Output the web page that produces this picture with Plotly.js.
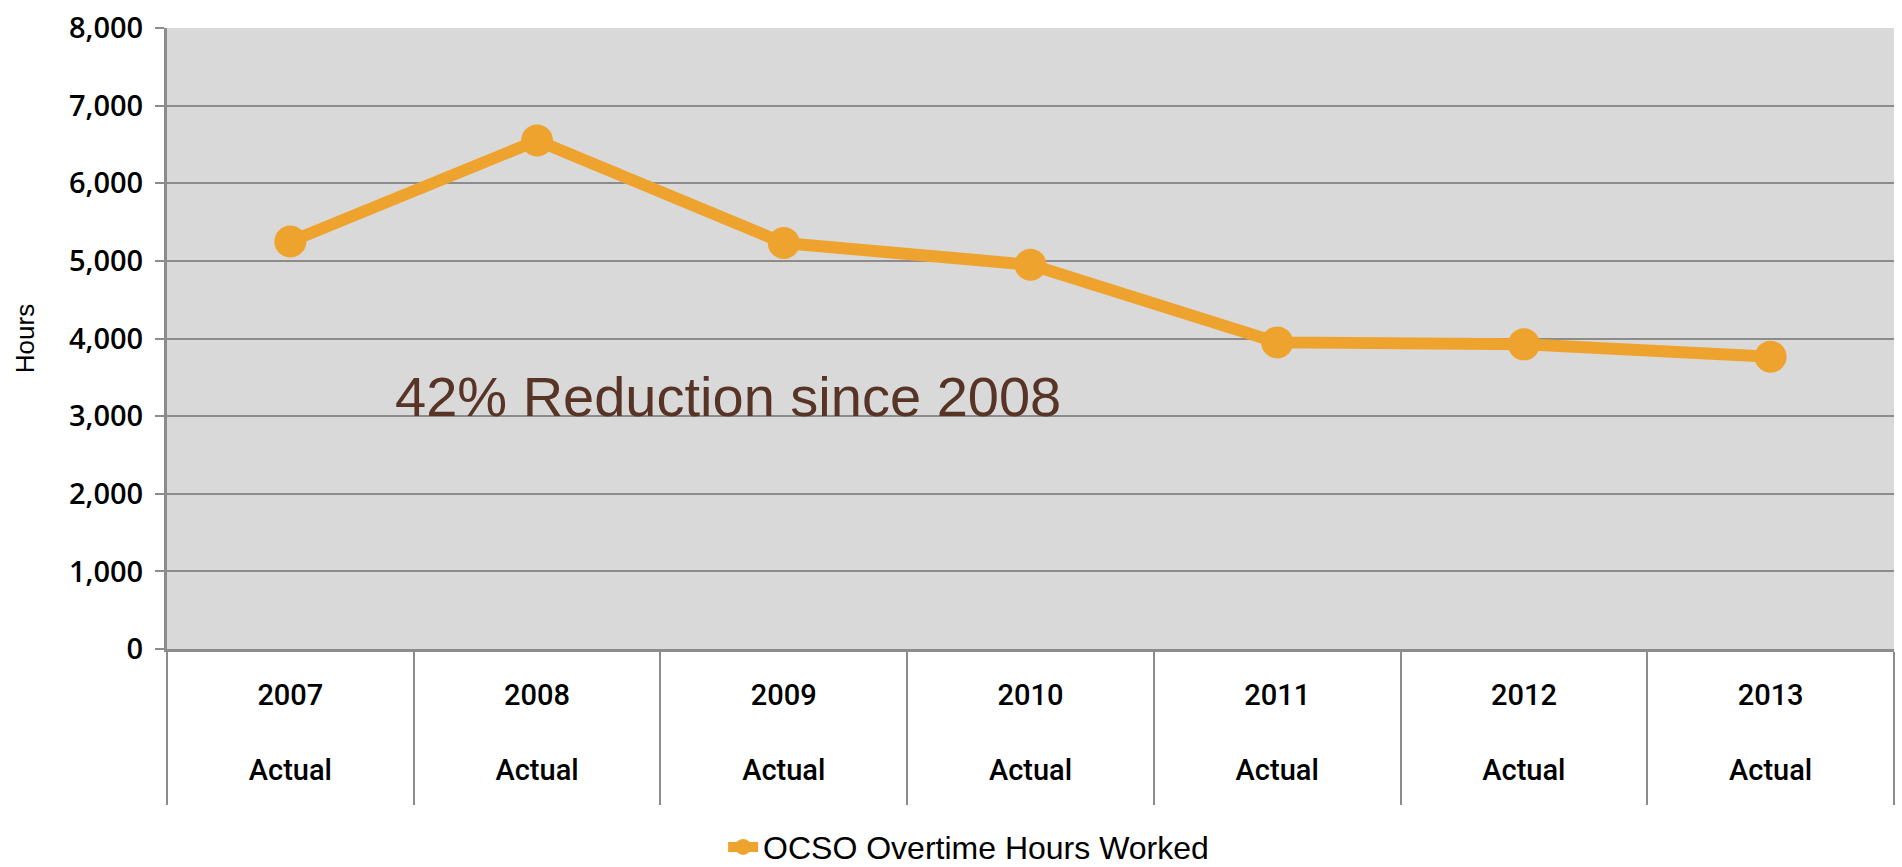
<!DOCTYPE html>
<html>
<head>
<meta charset="utf-8">
<script src="https://cdn.plot.ly/plotly-3.0.1.min.js"></script>
<style>
  html, body { margin: 0; padding: 0; background: #ffffff; }
  #chart { width: 1902px; height: 867px; }
</style>
</head>
<body>
<div id="chart"></div>
<script>
// ---- Data ----
const years = ["2007", "2008", "2009", "2010", "2011", "2012", "2013"];
const status = ["Actual", "Actual", "Actual", "Actual", "Actual", "Actual", "Actual"];
const overtimeHours = [5250, 6550, 5230, 4950, 3950, 3925, 3765];
const seriesName = "OCSO Overtime Hours Worked";
const yTickVals = [0, 1000, 2000, 3000, 4000, 5000, 6000, 7000, 8000];
const yTickText = ["0", "1,000", "2,000", "3,000", "4,000", "5,000", "6,000", "7,000", "8,000"];
const noteText = "42% Reduction since 2008";

const tickLabels = years.map((y, i) => y + "<br><br>" + status[i]);

const ORANGE = "#EFA32F";
const GRID = "#8c8c8c";

const trace = {
  type: "scatter",
  mode: "lines+markers",
  name: seriesName,
  x: years,
  y: overtimeHours,
  line: { color: ORANGE, width: 12 },
  marker: { color: ORANGE, size: 32 },
  hoverinfo: "x+y"
};

const layout = {
  width: 1902,
  height: 867,
  margin: { l: 167, r: 8, t: 28, b: 218, autoexpand: false },
  paper_bgcolor: "#ffffff",
  plot_bgcolor: "#d9d9d9",
  font: { family: "Liberation Sans, Arial, sans-serif", color: "#000000" },
  showlegend: true,
  legend: {
    orientation: "h",
    x: 0.322, xanchor: "left",
    y: -0.319, yanchor: "middle",
    font: { family: "Liberation Sans, Arial, sans-serif", size: 32, color: "#000000" },
    bgcolor: "rgba(0,0,0,0)"
  },
  xaxis: {
    type: "category",
    categoryorder: "array",
    categoryarray: years,
    range: [-0.5, years.length - 0.5],
    tickvals: years,
    ticktext: tickLabels,
    ticks: "outside",
    tickson: "boundaries",
    ticklen: 153,
    tickwidth: 2,
    tickcolor: GRID,
    ticklabelstandoff: 18,
    tickfont: { family: "Roboto, Liberation Sans, sans-serif", size: 29, weight: 500, color: "#000000" },
    showline: true,
    linecolor: GRID,
    linewidth: 3,
    showgrid: false,
    zeroline: false,
    fixedrange: true
  },
  yaxis: {
    range: [0, 8000],
    tickvals: yTickVals,
    ticktext: yTickText,
    ticks: "outside",
    ticklen: 9,
    tickwidth: 2,
    tickcolor: GRID,
    ticklabelstandoff: 6,
    tickfont: { family: "Open Sans, DejaVu Sans, sans-serif", size: 29, weight: 600, color: "#000000" },
    showgrid: true,
    gridcolor: GRID,
    gridwidth: 2,
    showline: true,
    linecolor: GRID,
    linewidth: 3,
    zeroline: false,
    fixedrange: true,
    title: {
      text: "Hours",
      standoff: 27,
      font: { family: "Liberation Sans, Arial, sans-serif", size: 26, color: "#000000" }
    }
  },
  annotations: [{
    xref: "paper", yref: "y",
    x: 0.131, y: 3250,
    xanchor: "left", yanchor: "middle",
    text: noteText,
    showarrow: false,
    font: { family: "Liberation Sans, Arial, sans-serif", size: 56, color: "#573425" }
  }]
};

Plotly.newPlot("chart", [trace], layout, { displayModeBar: false, staticPlot: true });
</script>
</body>
</html>
